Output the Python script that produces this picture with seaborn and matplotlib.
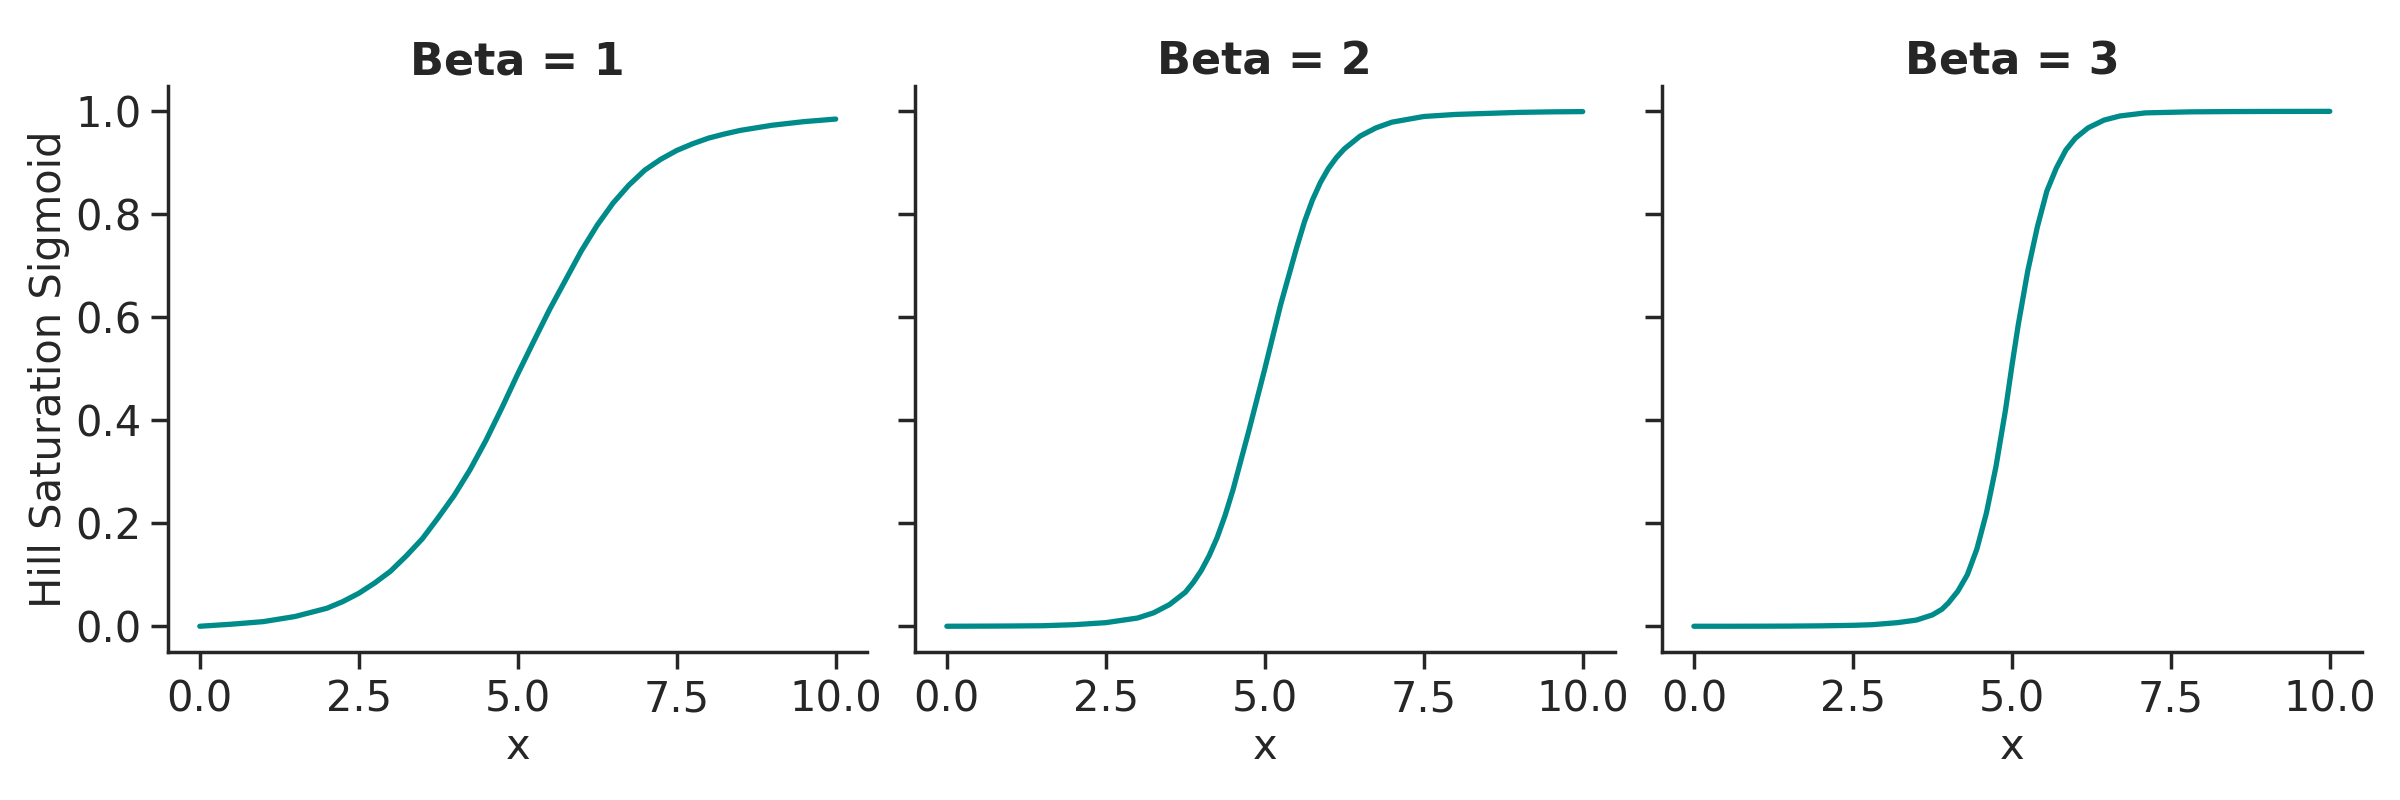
import numpy as np
import pandas as pd
import matplotlib
matplotlib.use("Agg")
import matplotlib.pyplot as plt
import seaborn as sns

# ---- values ----
betas = [1, 2, 3]
panel_titles = ["Beta = 1", "Beta = 2", "Beta = 3"]

x_beta1 = [0.0, 0.5, 1.0, 1.5, 2.0, 2.25, 2.5, 2.75, 3.0, 3.25, 3.5, 3.75,
           4.0, 4.25, 4.5, 4.75, 5.0, 5.25, 5.5, 5.75, 6.0, 6.25, 6.5, 6.75,
           7.0, 7.25, 7.5, 7.75, 8.0, 8.25, 8.5, 9.0, 9.5, 10.0]
y_beta1 = [0.0, 0.004, 0.009, 0.019, 0.035, 0.048, 0.064, 0.084, 0.107, 0.137, 0.170, 0.211,
           0.254, 0.304, 0.361, 0.424, 0.49, 0.553, 0.615, 0.672, 0.729, 0.779, 0.822, 0.857,
           0.886, 0.907, 0.924, 0.937, 0.948, 0.956, 0.963, 0.973, 0.980, 0.985]

x_beta2 = [0.0, 0.5, 1.0, 1.5, 2.0, 2.5, 3.0, 3.25, 3.5, 3.75, 3.875, 4.0, 4.125, 4.25,
           4.375, 4.5, 4.75, 5.0, 5.25, 5.5, 5.625, 5.75, 5.875, 6.0, 6.125, 6.25,
           6.5, 6.75, 7.0, 7.5, 8.0, 8.5, 9.0, 9.5, 10.0]
y_beta2 = [0.0, 0.0002, 0.0005, 0.001, 0.003, 0.007, 0.016, 0.026, 0.042, 0.066, 0.085, 0.108, 0.137, 0.172,
           0.215, 0.265, 0.38, 0.5, 0.625, 0.735, 0.786, 0.828, 0.862, 0.889, 0.91, 0.927,
           0.952, 0.968, 0.979, 0.99, 0.994, 0.996, 0.998, 0.999, 0.9995]

x_beta3 = [0.0, 0.5, 1.0, 1.5, 2.0, 2.5, 2.8, 3.2, 3.5, 3.75, 3.9, 4.0, 4.15, 4.3,
           4.45, 4.6, 4.75, 4.9, 5.0, 5.1, 5.25, 5.4, 5.55, 5.7, 5.85, 6.0,
           6.2, 6.45, 6.7, 7.1, 7.8, 8.5, 9.0, 9.5, 10.0]
y_beta3 = [0.0, 0.0, 0.0001, 0.0003, 0.0008, 0.0018, 0.003, 0.007, 0.012, 0.022, 0.033, 0.045, 0.068, 0.10,
           0.15, 0.22, 0.31, 0.42, 0.505, 0.585, 0.69, 0.775, 0.845, 0.89, 0.925, 0.948,
           0.968, 0.983, 0.991, 0.997, 0.999, 0.9996, 0.9998, 0.9999, 1.0]

curves = [(x_beta1, y_beta1), (x_beta2, y_beta2), (x_beta3, y_beta3)]

# long-form table for seaborn
frames = []
for b, (xs, ys) in zip(betas, curves):
    frames.append(pd.DataFrame({"x": xs, "y": ys, "beta": b}))
df = pd.concat(frames, ignore_index=True)

sns.set_theme(style="ticks")
plt.rcParams["font.family"] = ["DejaVu Sans"]

fig, axes = plt.subplots(1, 3, figsize=(12, 4), dpi=200, sharey=True)

for ax, b, title in zip(axes, betas, panel_titles):
    sub = df[df["beta"] == b]
    sns.lineplot(data=sub, x="x", y="y", ax=ax, color="#008B8B", linewidth=1.9)
    ax.set_title(title, fontsize=16, fontweight="bold", pad=4)
    ax.set_xlabel("x", fontsize=15, labelpad=2)
    ax.set_ylabel("")
    ax.set_xticks([0.0, 2.5, 5.0, 7.5, 10.0])
    ax.set_yticks([0.0, 0.2, 0.4, 0.6, 0.8, 1.0])
    ax.tick_params(labelsize=15)
    sns.despine(ax=ax)

axes[0].set_ylabel("Hill Saturation Sigmoid", fontsize=15, labelpad=2)

fig.subplots_adjust(left=0.07, right=0.984, top=0.893, bottom=0.185, wspace=0.068)
fig.savefig("out.png", dpi=200)
plt.close(fig)
